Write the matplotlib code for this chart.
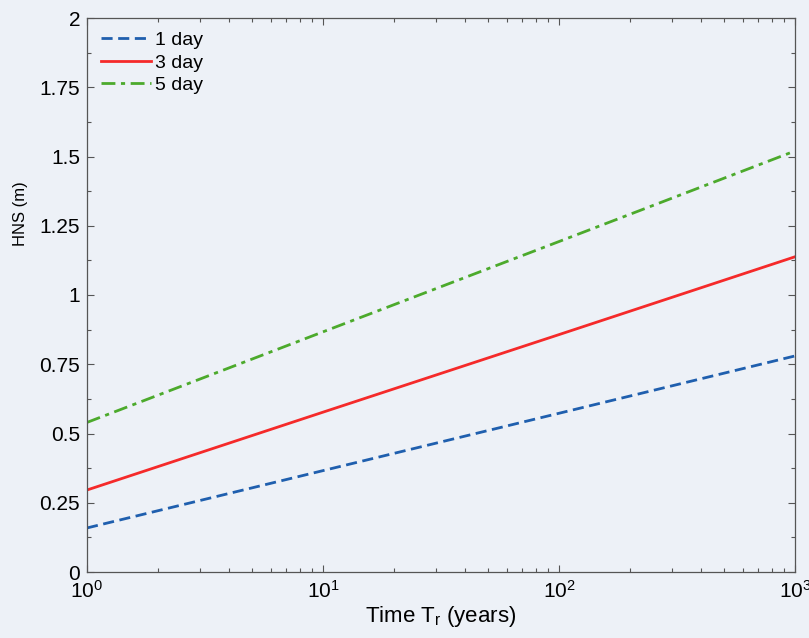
import matplotlib.pyplot as plt
import numpy as np
from matplotlib.ticker import MultipleLocator, FixedLocator, LogLocator, NullFormatter, FuncFormatter

plt.rcParams['font.family'] = ['Liberation Sans', 'DejaVu Sans']
plt.rcParams['mathtext.fontset'] = 'custom'
plt.rcParams['mathtext.rm'] = 'Liberation Sans'
plt.rcParams['mathtext.it'] = 'Liberation Sans'

# return period (years) and HNS (m) for each storm duration
return_period = [1, 10, 100, 1000]
hns_1day = [0.159, 0.366, 0.573, 0.780]
hns_3day = [0.296, 0.577, 0.857, 1.138]
hns_5day = [0.540, 0.867, 1.193, 1.520]

bg = '#edf1f7'

fig = plt.figure(figsize=(8.09, 6.38), dpi=100, facecolor=bg)
ax = fig.add_axes([87 / 809, 1 - 572 / 638, (795 - 87) / 809, (572 - 18) / 638])
ax.set_facecolor(bg)

ax.plot(return_period, hns_1day, '--', color='#1f5fae', lw=2, dashes=(4, 2), label='1 day')
ax.plot(return_period, hns_3day, '-', color='#f52a2a', lw=2, label='3 day')
ax.plot(return_period, hns_5day, '-.', color='#4caa2c', lw=2, dashes=(5, 2, 1.5, 2), label='5 day')

ax.set_xscale('log')
ax.set_xlim(1, 1000)
ax.set_ylim(0, 2)
ax.xaxis.set_major_locator(FixedLocator([1, 10, 100, 1000]))
ax.xaxis.set_major_formatter(FuncFormatter(lambda v, p: r'$\mathregular{10^{%d}}$' % round(np.log10(v))))
ax.xaxis.set_minor_locator(LogLocator(base=10, subs=np.arange(2, 10)))
ax.xaxis.set_minor_formatter(NullFormatter())
ax.yaxis.set_major_locator(MultipleLocator(0.25))
ax.yaxis.set_minor_locator(MultipleLocator(0.125))
ax.yaxis.set_major_formatter(FuncFormatter(lambda v, p: ('%g' % v)))

ax.tick_params(which='both', direction='in', top=True, right=True, labelsize=15, color='#555555')
ax.tick_params(axis='y', which='major', length=5, width=0.8, pad=5)
ax.tick_params(axis='x', which='major', length=5, width=0.8, pad=6)
ax.tick_params(which='minor', length=3, width=0.8)
for sp in ax.spines.values():
    sp.set_color('#555555')
    sp.set_linewidth(0.9)

ax.set_xlabel('Time T$_r$ (years)', fontsize=16, labelpad=1)
ax.set_ylabel('HNS (m)', fontsize=12)
ax.yaxis.set_label_coords(-0.083, 0.646)

ax.legend(loc='upper left', frameon=False, fontsize=14, handlelength=2.6,
          handletextpad=0.2, labelspacing=0.25, borderaxespad=0.3)

fig.savefig('out.png', dpi=100, facecolor=bg)
